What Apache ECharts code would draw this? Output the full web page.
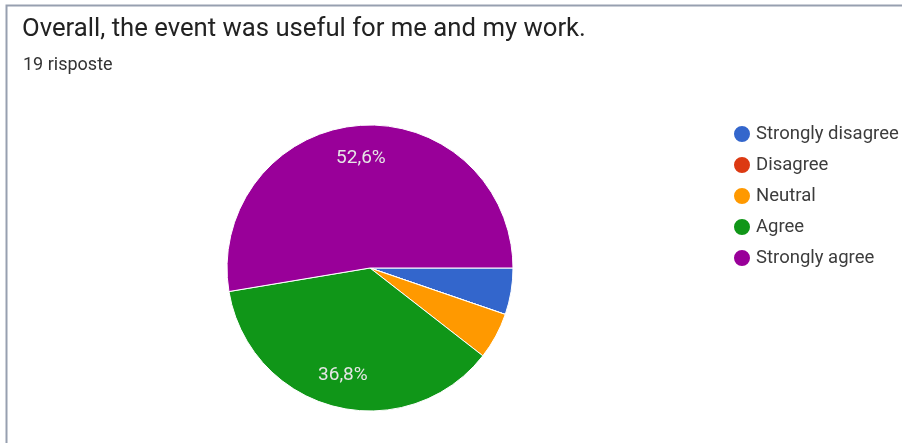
<!DOCTYPE html>
<html>
<head>
<meta charset="utf-8">
<script src="https://cdn.jsdelivr.net/npm/echarts@6/dist/echarts.min.js"></script>
<style>
  html, body { margin: 0; padding: 0; background: #fff; }
  #chart { width: 902px; height: 443px; }
</style>
</head>
<body>
<div id="chart"></div>
<script>
// risposte per categoria (19 totali)
const categories = ["Strongly disagree", "Disagree", "Neutral", "Agree", "Strongly agree"];
const counts = [1, 0, 1, 7, 10];
const colors = ["#3366cc", "#dc3912", "#ff9900", "#109618", "#990099"];

const total = counts.reduce((a, b) => a + b, 0);
const pieData = categories.map((name, i) => ({ name: name, value: counts[i] }));

// formato italiano: 52,6%
const fmtPct = (v) => (v / total * 100).toFixed(1).replace(".", ",") + "%";

const chart = echarts.init(document.getElementById("chart"));
chart.setOption({
  animation: false,
  color: colors,
  title: [
    {
      text: "Overall, the event was useful for me and my work.",
      left: 17,
      top: 12,
      textStyle: { fontFamily: "Roboto", fontSize: 25.7, fontWeight: "normal", color: "#222" }
    },
    {
      text: "19 risposte",
      left: 18,
      top: 51,
      textStyle: { fontFamily: "Roboto", fontSize: 18, fontWeight: "normal", color: "#333" }
    }
  ],
  legend: {
    orient: "vertical",
    left: 727,
    top: 119,
    icon: "circle",
    itemWidth: 18,
    itemHeight: 18,
    itemGap: 11,
    data: categories,
    textStyle: { fontFamily: "Roboto", fontSize: 18.5, color: "#3c3c3c" }
  },
  graphic: [
    {
      type: "rect",
      shape: { x: 6.5, y: 5.5, width: 1000, height: 1000 },
      style: { fill: "none", stroke: "#97a0b0", lineWidth: 2 },
      silent: true
    }
  ],
  series: [
    {
      type: "pie",
      center: [370, 268],
      radius: [0, 143],
      startAngle: 0,
      clockwise: true,
      label: { show: false },
      labelLine: { show: false },
      itemStyle: { borderColor: "#fff", borderWidth: 1 },
      data: pieData
    },
    {
      // solo etichette, spostate verso il bordo
      type: "pie",
      center: [370, 268],
      radius: [72, 143],
      startAngle: 0,
      clockwise: true,
      silent: true,
      legendHoverLink: false,
      itemStyle: { color: "transparent", borderWidth: 0 },
      label: {
        position: "inside",
        fontFamily: "Roboto",
        fontSize: 19,
        color: "#e6e6e6",
        formatter: (p) => (p.value / total >= 0.1 ? fmtPct(p.value) : "")
      },
      labelLine: { show: false },
      data: pieData
    }
  ]
});
</script>
</body>
</html>
